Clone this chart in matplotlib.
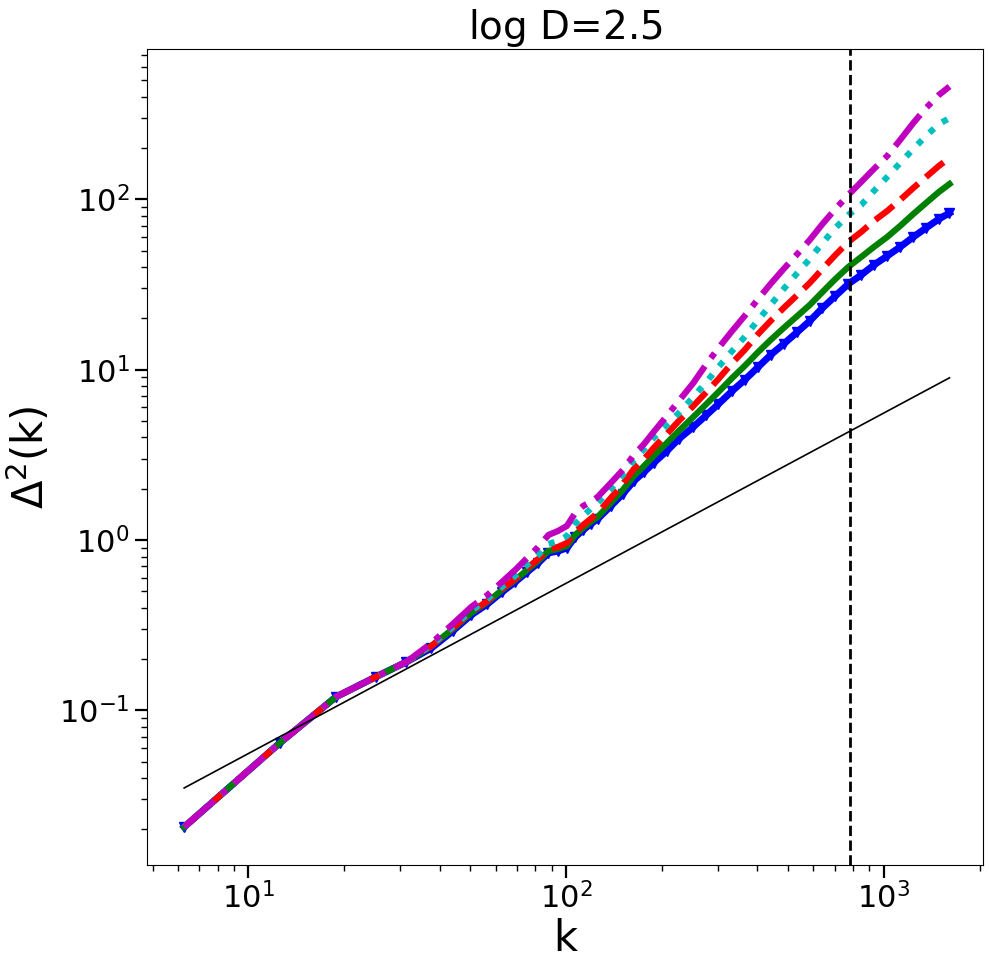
import numpy as np
import matplotlib
matplotlib.use("Agg")
import matplotlib.pyplot as plt

# k = 2*pi*n
n_modes = [1, 2, 3, 4, 5, 6, 7, 8, 9, 10, 11, 12, 13, 14, 15, 16, 17, 18, 19, 20,
           22, 24, 26, 28, 30, 33, 36, 40, 44, 48, 53, 58, 64, 70, 77, 85, 93,
           102, 112, 123, 135, 148, 163, 179, 197, 216, 237, 256]
k_vals = [2 * np.pi * n for n in n_modes]

delta_blue = [0.02064, 0.0643, 0.1197, 0.1568, 0.1921, 0.2321, 0.2921, 0.3627, 0.4209,
              0.4949, 0.5666, 0.6487, 0.7326, 0.8389, 0.8617, 0.8975, 1.0414, 1.1446,
              1.2419, 1.3286, 1.583, 1.8625, 2.2197, 2.5081, 2.8319, 3.3305, 3.9176,
              4.6095, 5.4199, 6.2889, 7.4989, 8.697, 10.37, 12.20, 14.16, 16.65, 19.32,
              23.04, 27.09, 31.86, 35.98, 41.19, 46.52, 52.55, 60.16, 67.94, 76.71, 83.17]
delta_green = [0.02064, 0.0643, 0.1197, 0.1568, 0.1921, 0.2385, 0.3001, 0.3726, 0.4324,
               0.5085, 0.5821, 0.6665, 0.7527, 0.8619, 0.8853, 0.9221, 1.070, 1.176,
               1.276, 1.365, 1.649, 1.966, 2.375, 2.720, 3.113, 3.711, 4.365, 5.277,
               6.289, 7.397, 8.940, 10.51, 12.70, 14.94, 17.58, 20.67, 23.99, 28.60,
               34.09, 40.10, 45.89, 52.54, 60.15, 69.80, 82.10, 95.26, 110.5, 123.1]
delta_red = [0.02064, 0.0643, 0.1197, 0.1568, 0.1921, 0.2385, 0.3042, 0.3777, 0.4383,
             0.5154, 0.5900, 0.6848, 0.7733, 0.8855, 0.9096, 0.9603, 1.114, 1.225,
             1.329, 1.441, 1.764, 2.132, 2.611, 2.990, 3.469, 4.192, 4.997, 6.123,
             7.397, 8.819, 10.95, 13.05, 16.20, 19.32, 23.04, 27.46, 32.31, 39.04,
             47.16, 56.24, 64.36, 74.69, 85.50, 99.22, 116.7, 135.4, 157.1, 175.0]
delta_cyan = [0.02064, 0.0643, 0.1197, 0.1568, 0.1921, 0.2417, 0.3083, 0.3828, 0.4503,
              0.5296, 0.6145, 0.7131, 0.8163, 0.9475, 0.9864, 1.0556, 1.2416, 1.3832,
              1.5212, 1.6495, 1.993, 2.408, 2.949, 3.423, 3.971, 4.734, 5.568, 6.916,
              8.468, 10.37, 12.88, 15.56, 19.58, 23.98, 29.79, 36.97, 44.68, 55.48,
              67.94, 81.00, 92.70, 112.0, 135.4, 163.6, 197.7, 235.7, 277.1, 300.0]
delta_magenta = [0.02064, 0.0643, 0.1197, 0.1568, 0.1921, 0.2484, 0.3211, 0.4041, 0.4753,
                 0.5666, 0.6664, 0.7839, 0.9096, 1.0700, 1.1293, 1.2084, 1.4406, 1.5834,
                 1.6722, 1.7888, 2.161, 2.5764, 3.155, 3.662, 4.306, 5.346, 6.549, 8.357,
                 10.80, 13.41, 16.88, 20.66, 26.00, 31.86, 39.04, 47.80, 57.77, 71.73,
                 87.84, 106.2, 126.5, 150.8, 179.8, 223.3, 281.0, 344.2, 410.2, 460.0]

# linear-theory reference line (end points)
lin_k = [6.283, 1608.5]
lin_delta = [0.0350, 8.96]

k_cut = 785.0

plt.rcParams["mathtext.default"] = "regular"

fig = plt.figure(figsize=(9.9, 9.68), dpi=100)
ax = fig.add_axes([0.1485, 0.1064, 0.8444, 0.843])

ax.plot(k_vals, delta_blue, color="b", marker="v", markersize=7, linewidth=5)
ax.plot(k_vals, delta_green, color="g", linestyle="-", linewidth=4.5)
ax.plot(k_vals, delta_red, color="r", linestyle="--", linewidth=4.5)
ax.plot(k_vals, delta_cyan, color="c", linestyle=":", linewidth=4.5)
ax.plot(k_vals, delta_magenta, color="m", linestyle="-.", linewidth=4.5)
ax.plot(lin_k, lin_delta, color="k", linewidth=1.2)
ax.axvline(k_cut, color="k", linestyle="--", linewidth=2)

ax.set_xscale("log")
ax.set_yscale("log")
ax.set_xlim(4.8, 2050)
ax.set_ylim(0.01235, 764)

ax.tick_params(which="major", length=9, width=1.6, labelsize=22)
ax.tick_params(which="minor", length=4.5, width=1.0)

ax.set_xlabel("k", fontsize=30, labelpad=2)
ax.set_ylabel(r"$\Delta^2$(k)", fontsize=30)
ax.set_title(r"$\log\,$D=2.5", fontsize=28)

fig.savefig("out.png", dpi=100)
